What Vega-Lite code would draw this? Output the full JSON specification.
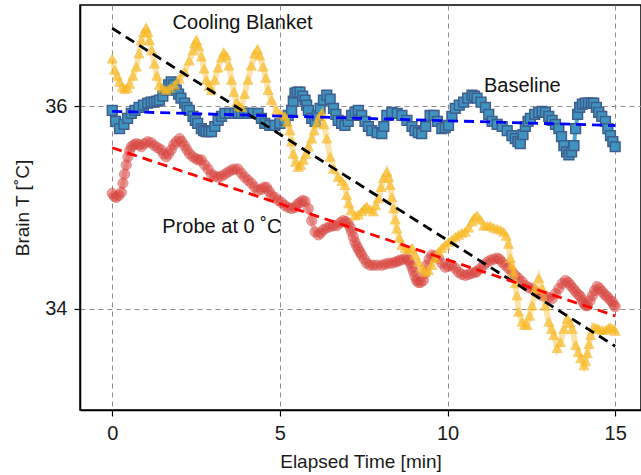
{
  "$schema": "https://vega.github.io/schema/vega-lite/v6.json",
  "width": 561,
  "height": 405,
  "autosize": {"type": "none"},
  "padding": {"left": 80, "top": 5, "right": 0, "bottom": 65},
  "background": "white",
  "config": {
    "view": {"stroke": "black", "strokeWidth": 1.5},
    "font": "Liberation Sans",
    "axis": {
      "grid": true,
      "gridDash": [5, 4],
      "gridColor": "#8c8c8c",
      "gridWidth": 1,
      "gridOpacity": 1,
      "tickSize": 6,
      "tickColor": "black",
      "tickWidth": 1.2,
      "domainColor": "black",
      "domainWidth": 1.5,
      "labelFontSize": 20,
      "labelColor": "#1a1a1a",
      "titleFontSize": 19,
      "titleFontWeight": "normal",
      "titleColor": "#1a1a1a",
      "labelPadding": 7
    }
  },
  "datasets": {
    "baseline": [
      {"t":0.0,"T":35.96},{"t":0.1,"T":35.85},{"t":0.22,"T":35.78},{"t":0.35,"T":35.82},{"t":0.46,"T":35.88},{"t":0.57,"T":35.93},{"t":0.68,"T":35.96},{"t":0.8,"T":35.99},{"t":0.93,"T":36.01},{"t":1.06,"T":36.03},{"t":1.16,"T":36.04},{"t":1.25,"T":36.04},{"t":1.33,"T":36.05},{"t":1.41,"T":36.06},{"t":1.51,"T":36.1},{"t":1.61,"T":36.16},{"t":1.68,"T":36.21},{"t":1.76,"T":36.24},{"t":1.84,"T":36.21},{"t":1.91,"T":36.16},{"t":1.98,"T":36.12},{"t":2.05,"T":36.08},{"t":2.16,"T":36.03},{"t":2.23,"T":35.99},{"t":2.3,"T":35.96},{"t":2.41,"T":35.9},{"t":2.48,"T":35.86},{"t":2.55,"T":35.83},{"t":2.66,"T":35.78},{"t":2.73,"T":35.76},{"t":2.8,"T":35.75},{"t":2.88,"T":35.75},{"t":2.96,"T":35.75},{"t":3.06,"T":35.8},{"t":3.16,"T":35.86},{"t":3.26,"T":35.9},{"t":3.36,"T":35.93},{"t":3.5,"T":35.93},{"t":3.66,"T":35.93},{"t":3.76,"T":35.93},{"t":3.85,"T":35.93},{"t":3.95,"T":35.93},{"t":4.05,"T":35.93},{"t":4.2,"T":35.93},{"t":4.35,"T":35.93},{"t":4.45,"T":35.88},{"t":4.55,"T":35.83},{"t":4.7,"T":35.81},{"t":4.85,"T":35.81},{"t":5.0,"T":35.83},{"t":5.15,"T":35.86},{"t":5.25,"T":35.91},{"t":5.35,"T":35.96},{"t":5.4,"T":36.05},{"t":5.45,"T":36.13},{"t":5.52,"T":36.14},{"t":5.6,"T":36.14},{"t":5.68,"T":36.1},{"t":5.75,"T":36.06},{"t":5.8,"T":36.01},{"t":5.85,"T":35.96},{"t":5.95,"T":35.88},{"t":6.05,"T":35.85},{"t":6.12,"T":35.91},{"t":6.2,"T":35.98},{"t":6.3,"T":36.06},{"t":6.4,"T":36.11},{"t":6.5,"T":36.07},{"t":6.6,"T":35.98},{"t":6.67,"T":35.92},{"t":6.74,"T":35.86},{"t":6.84,"T":35.83},{"t":6.94,"T":35.81},{"t":7.04,"T":35.85},{"t":7.14,"T":35.91},{"t":7.24,"T":35.94},{"t":7.34,"T":35.96},{"t":7.44,"T":35.91},{"t":7.54,"T":35.85},{"t":7.64,"T":35.8},{"t":7.74,"T":35.76},{"t":7.9,"T":35.74},{"t":8.04,"T":35.73},{"t":8.1,"T":35.8},{"t":8.19,"T":35.91},{"t":8.34,"T":35.94},{"t":8.5,"T":35.93},{"t":8.64,"T":35.91},{"t":8.79,"T":35.86},{"t":8.94,"T":35.8},{"t":9.03,"T":35.76},{"t":9.13,"T":35.74},{"t":9.23,"T":35.73},{"t":9.35,"T":35.8},{"t":9.48,"T":35.91},{"t":9.6,"T":35.91},{"t":9.7,"T":35.85},{"t":9.83,"T":35.78},{"t":9.93,"T":35.79},{"t":10.03,"T":35.81},{"t":10.13,"T":35.9},{"t":10.23,"T":35.98},{"t":10.35,"T":36.01},{"t":10.48,"T":36.04},{"t":10.6,"T":36.08},{"t":10.73,"T":36.11},{"t":10.8,"T":36.1},{"t":10.88,"T":36.08},{"t":11.0,"T":36.04},{"t":11.13,"T":35.99},{"t":11.23,"T":35.92},{"t":11.33,"T":35.85},{"t":11.48,"T":35.82},{"t":11.63,"T":35.8},{"t":11.78,"T":35.76},{"t":11.92,"T":35.71},{"t":12.02,"T":35.68},{"t":12.1,"T":35.65},{"t":12.17,"T":35.63},{"t":12.25,"T":35.72},{"t":12.32,"T":35.8},{"t":12.4,"T":35.85},{"t":12.47,"T":35.88},{"t":12.6,"T":35.92},{"t":12.72,"T":35.94},{"t":12.82,"T":35.95},{"t":12.92,"T":35.94},{"t":13.02,"T":35.9},{"t":13.12,"T":35.86},{"t":13.22,"T":35.82},{"t":13.32,"T":35.78},{"t":13.4,"T":35.7},{"t":13.47,"T":35.61},{"t":13.55,"T":35.55},{"t":13.62,"T":35.52},{"t":13.7,"T":35.55},{"t":13.77,"T":35.61},{"t":13.82,"T":35.78},{"t":13.88,"T":35.92},{"t":13.94,"T":35.99},{"t":14.02,"T":36.02},{"t":14.11,"T":36.03},{"t":14.2,"T":36.03},{"t":14.29,"T":36.03},{"t":14.36,"T":36.03},{"t":14.44,"T":35.99},{"t":14.51,"T":35.94},{"t":14.6,"T":35.9},{"t":14.71,"T":35.85},{"t":14.78,"T":35.78},{"t":14.86,"T":35.71},{"t":14.93,"T":35.65},{"t":15.0,"T":35.6}
    ],
    "probe": [
      {"t":0.0,"T":35.14},{"t":0.06,"T":35.11},{"t":0.12,"T":35.1},{"t":0.2,"T":35.12},{"t":0.27,"T":35.15},{"t":0.32,"T":35.24},{"t":0.37,"T":35.33},{"t":0.42,"T":35.42},{"t":0.47,"T":35.5},{"t":0.52,"T":35.56},{"t":0.57,"T":35.6},{"t":0.65,"T":35.62},{"t":0.72,"T":35.63},{"t":0.8,"T":35.62},{"t":0.87,"T":35.6},{"t":0.96,"T":35.63},{"t":1.06,"T":35.65},{"t":1.16,"T":35.64},{"t":1.26,"T":35.61},{"t":1.36,"T":35.59},{"t":1.46,"T":35.57},{"t":1.53,"T":35.53},{"t":1.61,"T":35.5},{"t":1.68,"T":35.53},{"t":1.76,"T":35.57},{"t":1.84,"T":35.62},{"t":1.91,"T":35.65},{"t":2.01,"T":35.68},{"t":2.08,"T":35.65},{"t":2.16,"T":35.61},{"t":2.23,"T":35.57},{"t":2.31,"T":35.53},{"t":2.41,"T":35.5},{"t":2.51,"T":35.48},{"t":2.58,"T":35.47},{"t":2.66,"T":35.47},{"t":2.76,"T":35.42},{"t":2.86,"T":35.38},{"t":2.96,"T":35.33},{"t":3.06,"T":35.31},{"t":3.16,"T":35.3},{"t":3.26,"T":35.31},{"t":3.36,"T":35.33},{"t":3.46,"T":35.35},{"t":3.56,"T":35.37},{"t":3.65,"T":35.38},{"t":3.75,"T":35.38},{"t":3.85,"T":35.34},{"t":3.95,"T":35.3},{"t":4.05,"T":35.27},{"t":4.15,"T":35.24},{"t":4.25,"T":35.2},{"t":4.35,"T":35.17},{"t":4.45,"T":35.18},{"t":4.53,"T":35.2},{"t":4.6,"T":35.2},{"t":4.68,"T":35.16},{"t":4.75,"T":35.12},{"t":4.85,"T":35.1},{"t":4.95,"T":35.07},{"t":5.05,"T":35.05},{"t":5.15,"T":35.02},{"t":5.25,"T":35.0},{"t":5.35,"T":34.99},{"t":5.45,"T":35.0},{"t":5.52,"T":35.03},{"t":5.6,"T":35.05},{"t":5.68,"T":35.07},{"t":5.75,"T":35.06},{"t":5.85,"T":34.99},{"t":5.95,"T":34.87},{"t":6.05,"T":34.76},{"t":6.15,"T":34.73},{"t":6.22,"T":34.75},{"t":6.3,"T":34.78},{"t":6.4,"T":34.8},{"t":6.5,"T":34.81},{"t":6.6,"T":34.82},{"t":6.7,"T":34.82},{"t":6.8,"T":34.85},{"t":6.89,"T":34.87},{"t":6.97,"T":34.86},{"t":7.04,"T":34.84},{"t":7.1,"T":34.8},{"t":7.14,"T":34.76},{"t":7.19,"T":34.71},{"t":7.24,"T":34.66},{"t":7.29,"T":34.62},{"t":7.34,"T":34.59},{"t":7.39,"T":34.56},{"t":7.44,"T":34.53},{"t":7.52,"T":34.49},{"t":7.59,"T":34.45},{"t":7.69,"T":34.43},{"t":7.79,"T":34.43},{"t":7.9,"T":34.43},{"t":8.04,"T":34.43},{"t":8.14,"T":34.44},{"t":8.24,"T":34.45},{"t":8.34,"T":34.45},{"t":8.44,"T":34.46},{"t":8.52,"T":34.47},{"t":8.59,"T":34.48},{"t":8.69,"T":34.49},{"t":8.79,"T":34.5},{"t":8.84,"T":34.48},{"t":8.89,"T":34.45},{"t":8.94,"T":34.41},{"t":8.98,"T":34.37},{"t":9.03,"T":34.32},{"t":9.08,"T":34.28},{"t":9.13,"T":34.26},{"t":9.2,"T":34.26},{"t":9.28,"T":34.28},{"t":9.33,"T":34.35},{"t":9.38,"T":34.43},{"t":9.45,"T":34.49},{"t":9.53,"T":34.53},{"t":9.63,"T":34.52},{"t":9.73,"T":34.5},{"t":9.83,"T":34.45},{"t":9.93,"T":34.41},{"t":10.03,"T":34.42},{"t":10.13,"T":34.43},{"t":10.23,"T":34.4},{"t":10.33,"T":34.36},{"t":10.43,"T":34.34},{"t":10.53,"T":34.33},{"t":10.63,"T":34.34},{"t":10.73,"T":34.35},{"t":10.83,"T":34.36},{"t":10.88,"T":34.37},{"t":10.98,"T":34.4},{"t":11.08,"T":34.43},{"t":11.18,"T":34.46},{"t":11.28,"T":34.48},{"t":11.38,"T":34.49},{"t":11.48,"T":34.5},{"t":11.55,"T":34.49},{"t":11.63,"T":34.46},{"t":11.72,"T":34.43},{"t":11.82,"T":34.4},{"t":11.92,"T":34.36},{"t":12.02,"T":34.33},{"t":12.12,"T":34.3},{"t":12.22,"T":34.27},{"t":12.32,"T":34.23},{"t":12.42,"T":34.21},{"t":12.52,"T":34.2},{"t":12.62,"T":34.17},{"t":12.72,"T":34.15},{"t":12.82,"T":34.13},{"t":12.92,"T":34.12},{"t":13.02,"T":34.11},{"t":13.12,"T":34.1},{"t":13.22,"T":34.15},{"t":13.32,"T":34.2},{"t":13.42,"T":34.25},{"t":13.52,"T":34.28},{"t":13.6,"T":34.26},{"t":13.67,"T":34.23},{"t":13.75,"T":34.2},{"t":13.82,"T":34.17},{"t":13.9,"T":34.14},{"t":13.97,"T":34.12},{"t":14.03,"T":34.08},{"t":14.07,"T":34.05},{"t":14.12,"T":34.03},{"t":14.17,"T":34.03},{"t":14.25,"T":34.08},{"t":14.32,"T":34.13},{"t":14.39,"T":34.18},{"t":14.46,"T":34.22},{"t":14.54,"T":34.2},{"t":14.61,"T":34.17},{"t":14.69,"T":34.14},{"t":14.76,"T":34.12},{"t":14.84,"T":34.09},{"t":14.91,"T":34.07},{"t":14.96,"T":34.04},{"t":15.0,"T":34.02}
    ],
    "cooling": [
      {"t":0.0,"T":36.47},{"t":0.07,"T":36.36},{"t":0.15,"T":36.3},{"t":0.22,"T":36.24},{"t":0.3,"T":36.19},{"t":0.37,"T":36.17},{"t":0.45,"T":36.18},{"t":0.52,"T":36.22},{"t":0.62,"T":36.3},{"t":0.72,"T":36.39},{"t":0.8,"T":36.52},{"t":0.87,"T":36.65},{"t":0.94,"T":36.73},{"t":1.01,"T":36.77},{"t":1.06,"T":36.73},{"t":1.11,"T":36.65},{"t":1.18,"T":36.55},{"t":1.26,"T":36.42},{"t":1.33,"T":36.3},{"t":1.41,"T":36.21},{"t":1.5,"T":36.18},{"t":1.61,"T":36.16},{"t":1.72,"T":36.18},{"t":1.86,"T":36.21},{"t":2.0,"T":36.27},{"t":2.16,"T":36.34},{"t":2.3,"T":36.45},{"t":2.41,"T":36.55},{"t":2.46,"T":36.62},{"t":2.51,"T":36.65},{"t":2.58,"T":36.59},{"t":2.66,"T":36.49},{"t":2.74,"T":36.37},{"t":2.81,"T":36.26},{"t":2.88,"T":36.2},{"t":2.96,"T":36.16},{"t":3.06,"T":36.26},{"t":3.16,"T":36.38},{"t":3.26,"T":36.48},{"t":3.33,"T":36.53},{"t":3.4,"T":36.5},{"t":3.48,"T":36.4},{"t":3.56,"T":36.26},{"t":3.63,"T":36.14},{"t":3.71,"T":36.04},{"t":3.78,"T":36.0},{"t":3.86,"T":35.99},{"t":3.95,"T":36.12},{"t":4.05,"T":36.26},{"t":4.15,"T":36.4},{"t":4.25,"T":36.52},{"t":4.33,"T":36.56},{"t":4.4,"T":36.5},{"t":4.5,"T":36.39},{"t":4.58,"T":36.28},{"t":4.65,"T":36.16},{"t":4.75,"T":36.06},{"t":4.9,"T":35.96},{"t":5.05,"T":35.92},{"t":5.15,"T":35.9},{"t":5.22,"T":35.84},{"t":5.3,"T":35.76},{"t":5.35,"T":35.65},{"t":5.4,"T":35.53},{"t":5.47,"T":35.45},{"t":5.55,"T":35.4},{"t":5.62,"T":35.42},{"t":5.7,"T":35.47},{"t":5.78,"T":35.53},{"t":5.85,"T":35.6},{"t":5.95,"T":35.68},{"t":6.02,"T":35.76},{"t":6.1,"T":35.83},{"t":6.18,"T":35.9},{"t":6.25,"T":35.93},{"t":6.32,"T":35.82},{"t":6.4,"T":35.68},{"t":6.5,"T":35.5},{"t":6.6,"T":35.38},{"t":6.74,"T":35.3},{"t":6.85,"T":35.26},{"t":6.94,"T":35.22},{"t":6.99,"T":35.12},{"t":7.05,"T":35.04},{"t":7.12,"T":34.97},{"t":7.24,"T":34.92},{"t":7.34,"T":34.93},{"t":7.44,"T":34.96},{"t":7.52,"T":34.99},{"t":7.59,"T":35.01},{"t":7.69,"T":34.98},{"t":7.79,"T":34.96},{"t":7.86,"T":35.02},{"t":7.94,"T":35.09},{"t":8.02,"T":35.2},{"t":8.09,"T":35.29},{"t":8.19,"T":35.35},{"t":8.24,"T":35.3},{"t":8.29,"T":35.22},{"t":8.34,"T":35.1},{"t":8.39,"T":34.99},{"t":8.44,"T":34.88},{"t":8.49,"T":34.79},{"t":8.56,"T":34.7},{"t":8.64,"T":34.63},{"t":8.74,"T":34.6},{"t":8.84,"T":34.58},{"t":8.94,"T":34.6},{"t":9.03,"T":34.53},{"t":9.13,"T":34.46},{"t":9.23,"T":34.4},{"t":9.33,"T":34.36},{"t":9.43,"T":34.38},{"t":9.53,"T":34.43},{"t":9.63,"T":34.5},{"t":9.73,"T":34.56},{"t":9.83,"T":34.6},{"t":9.93,"T":34.63},{"t":10.03,"T":34.66},{"t":10.13,"T":34.68},{"t":10.23,"T":34.71},{"t":10.33,"T":34.73},{"t":10.43,"T":34.75},{"t":10.53,"T":34.76},{"t":10.63,"T":34.8},{"t":10.73,"T":34.86},{"t":10.8,"T":34.9},{"t":10.88,"T":34.92},{"t":10.98,"T":34.88},{"t":11.08,"T":34.82},{"t":11.18,"T":34.82},{"t":11.28,"T":34.82},{"t":11.38,"T":34.8},{"t":11.48,"T":34.79},{"t":11.58,"T":34.78},{"t":11.67,"T":34.76},{"t":11.75,"T":34.72},{"t":11.82,"T":34.64},{"t":11.87,"T":34.5},{"t":11.92,"T":34.43},{"t":11.97,"T":34.36},{"t":12.02,"T":34.25},{"t":12.07,"T":34.13},{"t":12.12,"T":33.97},{"t":12.22,"T":33.87},{"t":12.3,"T":33.84},{"t":12.37,"T":33.84},{"t":12.45,"T":33.93},{"t":12.52,"T":34.03},{"t":12.62,"T":34.2},{"t":12.72,"T":34.3},{"t":12.82,"T":34.2},{"t":12.92,"T":34.03},{"t":13.02,"T":33.87},{"t":13.1,"T":33.8},{"t":13.17,"T":33.74},{"t":13.27,"T":33.61},{"t":13.37,"T":33.67},{"t":13.47,"T":33.8},{"t":13.57,"T":33.9},{"t":13.65,"T":33.86},{"t":13.72,"T":33.8},{"t":13.82,"T":33.64},{"t":13.9,"T":33.57},{"t":13.97,"T":33.51},{"t":14.07,"T":33.44},{"t":14.12,"T":33.48},{"t":14.17,"T":33.56},{"t":14.22,"T":33.65},{"t":14.27,"T":33.74},{"t":14.36,"T":33.82},{"t":14.45,"T":33.81},{"t":14.51,"T":33.8},{"t":14.61,"T":33.79},{"t":14.71,"T":33.79},{"t":14.8,"T":33.81},{"t":14.86,"T":33.82},{"t":14.96,"T":33.8},{"t":15.0,"T":33.78}
    ],
    "fits": [
      {"fit":"Cooling Blanket","t":0,"T":36.77},{"fit":"Cooling Blanket","t":15,"T":33.63},
      {"fit":"Baseline","t":0,"T":35.95},{"fit":"Baseline","t":15,"T":35.81},
      {"fit":"Probe at 0 ˚C","t":0,"T":35.59},{"fit":"Probe at 0 ˚C","t":15,"T":33.93}
    ],
    "labels": [
      {"label":"Cooling Blanket","t":3.89,"T":36.82},
      {"label":"Baseline","t":12.23,"T":36.2},
      {"label":"Probe at 0 ˚C","t":3.27,"T":34.81}
    ]
  },
  "encoding": {
    "x": {
      "field": "t", "type": "quantitative",
      "scale": {"domain": [-0.96, 15.77], "nice": false, "zero": false},
      "axis": {"values": [0, 5, 10, 15], "title": "Elapsed Time [min]", "titlePadding": 9}
    },
    "y": {
      "field": "T", "type": "quantitative",
      "scale": {"domain": [33, 37], "nice": false, "zero": false},
      "axis": {"values": [34, 36], "title": "Brain T [˚C]", "titlePadding": 12}
    }
  },
  "layer": [
    {"data": {"name": "baseline"}, "mark": {"type": "line", "color": "#3a9cc6", "strokeWidth": 4, "opacity": 0.9}, "encoding": {}},
    {"data": {"name": "baseline"}, "mark": {"type": "point", "shape": "square", "filled": true, "fill": "#3f93bf", "stroke": "#3d5e8e", "strokeWidth": 1.5, "size": 95, "opacity": 1}, "encoding": {}},
    {"data": {"name": "probe"}, "mark": {"type": "line", "color": "#e0504a", "strokeWidth": 5, "opacity": 0.35}, "encoding": {}},
    {"data": {"name": "probe"}, "mark": {"type": "point", "shape": "circle", "filled": true, "fill": "#dc4b45", "stroke": "#d0403b", "strokeWidth": 1, "size": 105, "opacity": 0.55}, "encoding": {}},
    {"data": {"name": "cooling"}, "mark": {"type": "line", "color": "#f7c343", "strokeWidth": 6, "opacity": 0.45}, "encoding": {}},
    {"data": {"name": "cooling"}, "mark": {"type": "point", "shape": "triangle-up", "filled": true, "fill": "#fbbb25", "stroke": "#f5b51f", "strokeWidth": 1, "size": 100, "opacity": 0.65}, "encoding": {}},
    {"data": {"name": "fits"}, "mark": {"type": "line", "strokeDash": [10, 6], "strokeWidth": 2.8}, "encoding": {
      "detail": {"field": "fit"},
      "color": {"field": "fit", "type": "nominal", "scale": {"domain": ["Cooling Blanket", "Baseline", "Probe at 0 ˚C"], "range": ["#000000", "#0000ff", "#ff0000"]}, "legend": null}
    }},
    {"data": {"name": "labels"}, "mark": {"type": "text", "fontSize": 20, "align": "center", "baseline": "middle", "color": "#111111", "font": "Liberation Sans"}, "encoding": {"text": {"field": "label"}}}
  ]
}
